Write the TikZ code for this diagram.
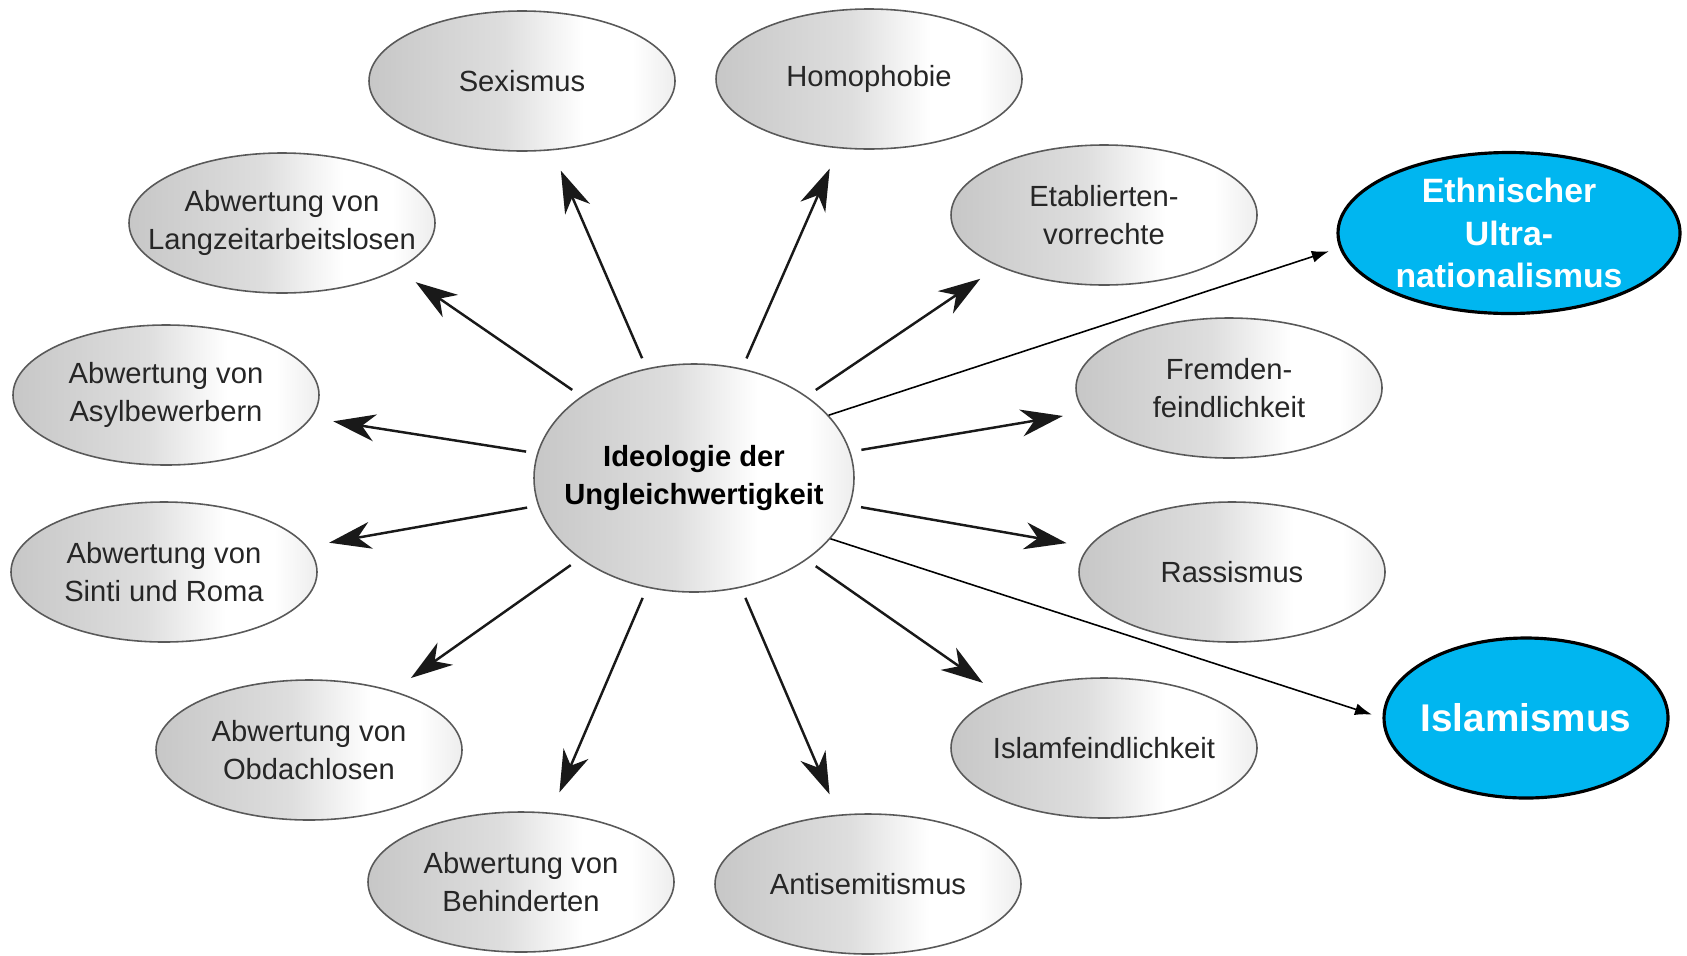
\documentclass[tikz,border=0pt]{standalone}
\usepackage{fontspec}
\setmainfont{Liberation Sans}
\usetikzlibrary{shapes.geometric,arrows.meta}
\definecolor{hotblue}{RGB}{0,182,240}
\pgfdeclarehorizontalshading{ellfill}{100bp}{color(0bp)=(black!22); color(25bp)=(black!22);
  color(47bp)=(black!13); color(60bp)=(white); color(68bp)=(white); color(75bp)=(black!7); color(100bp)=(black!7)}
\tikzset{
  topic/.style={ellipse, draw=black!65, line width=0.45pt, shading=ellfill,
    minimum width=3.06cm, minimum height=1.40cm, inner xsep=-4mm, inner ysep=-2mm,
    align=center, font=\fontsize{8.3}{10.7}\selectfont, text=black!85},
  core/.style={topic, minimum width=3.20cm, minimum height=2.28cm,
    font=\fontsize{8.3}{10.7}\selectfont\bfseries, text=black},
  hot/.style={ellipse, draw=black, line width=0.9pt, fill=hotblue, text=white,
    inner xsep=-4mm, inner ysep=-2mm, align=center, font=\fontsize{9.6}{12}\selectfont\bfseries},
  arr/.style={-{Stealth[length=0.42cm, width=0.27cm, inset=0.13cm]}, line width=0.7pt,
    black!90, shorten <=0.11cm, shorten >=0.22cm},
  thin/.style={-{Latex[length=0.17cm, width=0.12cm]}, line width=0.45pt, shorten >=0.11cm}
}
\begin{document}
\begin{tikzpicture}
\useasboundingbox (0,0) rectangle (16.87,-9.55);
% ---- centre ----
\node[core] (ideo) at (6.94,-4.78) {Ideologie der\\Ungleichwertigkeit};
% ---- ring of grey ellipses ----
\node[topic] (sex)   at (5.22,-0.81) {Sexismus};
\node[topic] (homo)  at (8.69,-0.79) {Homophobie};
\node[topic] (etab)  at (11.04,-2.15) {Etablierten-\\vorrechte};
\node[topic] (fremd) at (12.29,-3.88) {Fremden-\\feindlichkeit};
\node[topic] (rass)  at (12.32,-5.72) {Rassismus};
\node[topic] (islf)  at (11.04,-7.48) {Islamfeindlichkeit};
\node[topic] (antis) at (8.68,-8.84) {Antisemitismus};
\node[topic] (behin) at (5.21,-8.82) {Abwertung von\\Behinderten};
\node[topic] (obd)   at (3.09,-7.50) {Abwertung von\\Obdachlosen};
\node[topic] (sinti) at (1.64,-5.72) {Abwertung von\\Sinti und Roma};
\node[topic] (asyl)  at (1.66,-3.95) {Abwertung von\\Asylbewerbern};
\node[topic] (lang)  at (2.82,-2.23) {Abwertung von\\Langzeitarbeitslosen};
% ---- blue ellipses ----
\node[hot, minimum width=3.42cm, minimum height=1.61cm] (ethn) at (15.09,-2.33)
  {Ethnischer\\Ultra-\\nationalismus};
\node[hot, minimum width=2.84cm, minimum height=1.60cm,
  font=\fontsize{11}{13}\selectfont\bfseries] (islm) at (15.26,-7.18) {Islamismus};
% ---- arrows ----
\foreach \t in {sex,homo,fremd,rass,antis,behin,obd,sinti,asyl}
  \draw[arr] (ideo) -- (\t);
\draw[arr] (ideo.36) -- (etab.206);
\draw[arr] (ideo.-36) -- (islf.153);
\draw[arr] (ideo.144) -- (lang.-22);
\draw[thin] (ideo.25) -- (ethn.185);
\draw[thin] (ideo.-24) -- (islm.west);
\end{tikzpicture}
\end{document}
